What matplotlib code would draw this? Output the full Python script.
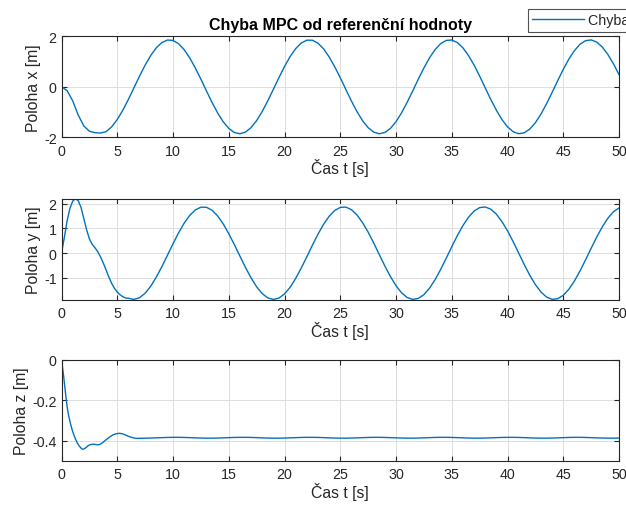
import numpy as np
import matplotlib
matplotlib.use("Agg")
import matplotlib.pyplot as plt

plt.rcParams['font.family'] = ['Liberation Sans', 'DejaVu Sans']
plt.rcParams['axes.unicode_minus'] = False

# --- data ---
# x error, sampled every 0.5 s from 0 to 50 s
t_x = np.arange(0, 50.01, 0.5)
err_x = [0.0, -0.15, -0.55, -1.12, -1.55, -1.76, -1.82, -1.83,
         -1.777, -1.586, -1.296, -0.926, -0.498, -0.039, 0.423, 0.858, 1.239, 1.544,
         1.752, 1.852, 1.837, 1.707, 1.471, 1.144, 0.745, 0.304, -0.163, -0.618,
         -1.031, -1.383, -1.647, -1.810, -1.860, -1.794, -1.617, -1.340, -0.979, -0.556,
         -0.100, 0.362, 0.803, 1.193, 1.510, 1.732, 1.846, 1.845, 1.728, 1.505,
         1.186, 0.796, 0.360, -0.102, -0.560, -0.982, -1.342, -1.618, -1.794, -1.860,
         -1.809, -1.647, -1.382, -1.030, -0.615, -0.162, 0.302, 0.745, 1.143, 1.471,
         1.707, 1.837, 1.853, 1.753, 1.544, 1.240, 0.860, 0.424, -0.039, -0.500,
         -0.927, -1.297, -1.585, -1.777, -1.858, -1.823, -1.675, -1.422, -1.082, -0.674,
         -0.224, 0.240, 0.689, 1.095, 1.432, 1.684, 1.826, 1.857, 1.773, 1.576,
         1.281, 0.914, 0.484]

# y error, every 0.25 s up to 6 s, then every 0.5 s
t_y = np.concatenate([np.arange(0, 6.0, 0.25), np.arange(6.0, 50.01, 0.5)])
err_y = [0.0, 0.62, 1.30, 1.80, 2.10, 2.20, 2.12, 1.85, 1.40, 0.95, 0.58, 0.36,
         0.22, 0.06, -0.15, -0.40, -0.68, -0.97, -1.22, -1.42, -1.57, -1.68, -1.76, -1.81,
         -1.823, -1.869, -1.800, -1.618, -1.336, -0.971, -0.545, -0.086, 0.380, 0.820,
         1.211, 1.527, 1.746, 1.857, 1.853, 1.734, 1.507, 1.186, 0.787, 0.347,
         -0.117, -0.577, -0.999, -1.359, -1.634, -1.808, -1.870, -1.816, -1.648, -1.379,
         -1.023, -0.604, -0.148, 0.319, 0.764, 1.162, 1.488, 1.722, 1.849, 1.861,
         1.757, 1.544, 1.234, 0.850, 0.411, -0.055, -0.517, -0.946, -1.314, -1.602,
         -1.791, -1.868, -1.829, -1.677, -1.420, -1.075, -0.663, -0.209, 0.257, 0.707,
         1.113, 1.450, 1.699, 1.839, 1.866, 1.777, 1.576, 1.277, 0.905, 0.471,
         0.007, -0.459, -0.893, -1.270, -1.570, -1.774, -1.865, -1.841, -1.703, -1.460,
         -1.126, -0.722, -0.271, 0.195, 0.649, 1.063, 1.411, 1.670, 1.826]

# z error, dense during the transient, then every 0.5 s
t_z_early = [0, 0.1, 0.2, 0.3, 0.4, 0.5, 0.6, 0.8, 1.0, 1.2, 1.4, 1.6, 1.8, 1.9, 2.0,
             2.2, 2.4, 2.6, 2.8, 3.0, 3.2, 3.4, 3.6, 3.8, 4.0, 4.3, 4.6, 4.9, 5.2, 5.5,
             5.8, 6.1, 6.4, 6.7, 7.0]
t_z = np.concatenate([t_z_early, np.arange(7.5, 50.01, 0.5)])
err_z = [0.0, -0.04, -0.085, -0.135, -0.185, -0.23, -0.265, -0.315, -0.355, -0.385,
         -0.41, -0.428, -0.44, -0.443, -0.442, -0.435, -0.425, -0.42, -0.418, -0.419,
         -0.421, -0.42, -0.414, -0.405, -0.396, -0.383, -0.372, -0.366, -0.364, -0.367,
         -0.374, -0.381, -0.386, -0.389, -0.389,
         -0.388, -0.3875, -0.3865, -0.3855, -0.3845, -0.384, -0.384, -0.3845, -0.3855, -0.3865, -0.3875, -0.388, -0.388,
         -0.3875, -0.3865, -0.3855, -0.3845, -0.384, -0.384, -0.3845, -0.3855, -0.3865, -0.3875, -0.388, -0.388, -0.3875,
         -0.3865, -0.3855, -0.3845, -0.384, -0.384, -0.3845, -0.3855, -0.3865, -0.3875, -0.388, -0.388, -0.3875, -0.3865,
         -0.3855, -0.3845, -0.384, -0.384, -0.3845, -0.3855, -0.3865, -0.3875, -0.388, -0.388, -0.3875, -0.3865, -0.3855,
         -0.3845, -0.384, -0.384, -0.3845, -0.3855, -0.3865, -0.3875, -0.388, -0.388, -0.3875, -0.3865, -0.3855, -0.3845,
         -0.384, -0.384, -0.3845, -0.3855, -0.3865, -0.3875, -0.388, -0.388, -0.3875, -0.3865, -0.3855, -0.3845, -0.384,
         -0.384, -0.3845, -0.3855, -0.3865, -0.3875, -0.388, -0.388, -0.3875]

x_ticks = [0, 5, 10, 15, 20, 25, 30, 35, 40, 45, 50]
ylabels = ["Poloha x [m]", "Poloha y [m]", "Poloha z [m]"]
yticks = [[-2, 0, 2], [-1, 0, 1, 2], [-0.4, -0.2, 0]]
ytick_labels = [["-2", "0", "2"], ["-1", "0", "1", "2"], ["-0.4", "-0.2", "0"]]
ylims = [(-2, 2), (-1.88, 2.2), (-0.5, 0)]

line_color = "#0072BD"
axis_color = "#262626"

fig = plt.figure(figsize=(6.26, 5.06), dpi=100)
W, H = 626, 506
left, right = 61.5, 619
boxes = [(37.3, 138.3), (199.7, 300.7), (361.0, 461.7)]

series = [(t_x, err_x), (t_y, err_y), (t_z, err_z)]
axes = []
for i, (top, bot) in enumerate(boxes):
    ax = fig.add_axes([left / W, 1 - bot / H, (right - left) / W, (bot - top) / H])
    t, v = series[i]
    ln, = ax.plot(t, v, color=line_color, linewidth=1.0)
    ax.set_xlim(0, 50)
    ax.set_ylim(*ylims[i])
    ax.set_xticks(x_ticks)
    ax.set_yticks(yticks[i])
    ax.set_yticklabels(ytick_labels[i])
    ax.grid(True, color="#dedede", linewidth=0.7)
    ax.set_axisbelow(True)
    for s in ax.spines.values():
        s.set_color(axis_color)
        s.set_linewidth(0.8)
    ax.tick_params(direction="in", top=True, right=True, length=3.5, width=0.8,
                   color=axis_color, labelcolor=axis_color, labelsize=10.3)
    ax.tick_params(axis="x", pad=4.5)
    ax.tick_params(axis="y", pad=3.5)
    ax.set_xlabel("Čas t [s]", fontsize=11.3, color=axis_color, labelpad=0.5)
    ax.set_ylabel(ylabels[i], fontsize=11.3, color=axis_color, labelpad=2)
    axes.append(ax)
    if i == 0:
        handle = ln

axes[0].set_title("Chyba MPC od referenční hodnoty", fontsize=11.5, fontweight="bold",
                  color="black", pad=5)

# legend sits above the first axes and runs off the right edge, as in the source
leg = fig.legend([handle], ["Chyba x"], loc="upper left",
                 bbox_to_anchor=(528 / W, 1 - 10 / H), fontsize=10.3,
                 frameon=True, fancybox=False, borderpad=0.3,
                 handlelength=3.6, handletextpad=0.3, borderaxespad=0)
leg.get_frame().set_edgecolor(axis_color)
leg.get_frame().set_linewidth(0.8)
for txt in leg.get_texts():
    txt.set_color(axis_color)

fig.savefig("out.png", dpi=100)
